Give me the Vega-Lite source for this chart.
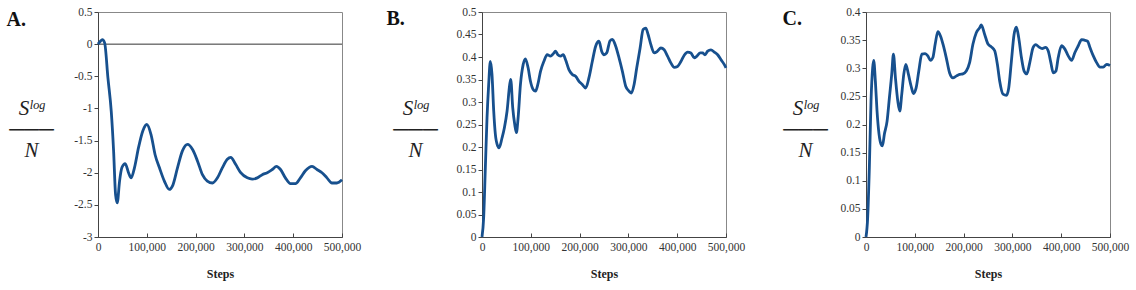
{
  "$schema": "https://vega.github.io/schema/vega-lite/v6.json",
  "padding": {"left": 5, "top": 5, "right": 5, "bottom": 5},
  "background": "white",
  "spacing": 140,
  "bounds": "flush",
  "config": {
    "font": "Liberation Serif",
    "locale": {"number": {"decimal": ".", "thousands": ",", "grouping": [3], "currency": ["$", ""], "minus": "-"}},
    "view": {"stroke": "#888888", "strokeWidth": 1},
    "axis": {
      "grid": false,
      "domainColor": "#444444",
      "tickColor": "#444444",
      "labelFont": "Liberation Serif",
      "labelFontSize": 11.5,
      "labelColor": "#333333",
      "labelOverlap": false,
      "labelFlush": false,
      "titleFont": "Liberation Serif",
      "titleColor": "#222222"
    },
    "axisX": {"tickSize": -4, "labelPadding": 8, "titleFontSize": 12, "titleFontWeight": "bold", "titlePadding": 16, "labelFont": "Liberation Serif", "titleFont": "Liberation Serif"},
    "axisY": {"tickSize": 4, "labelPadding": 2, "labelFont": "Liberation Serif", "titleFont": "Liberation Serif"}
  },
  "datasets": {
    "A": [
      {"step": 0, "value": 0}, {"step": 4400, "value": 0.04}, {"step": 8840, "value": 0.07}, {"step": 13600, "value": 0.02},
      {"step": 20400, "value": -0.53}, {"step": 27200, "value": -1.05}, {"step": 31960, "value": -1.66}, {"step": 36000, "value": -2.34},
      {"step": 39440, "value": -2.47}, {"step": 44200, "value": -2.13}, {"step": 49000, "value": -1.92}, {"step": 55760, "value": -1.86},
      {"step": 62560, "value": -2.0}, {"step": 68000, "value": -2.08}, {"step": 74800, "value": -1.92}, {"step": 83000, "value": -1.61},
      {"step": 91800, "value": -1.35}, {"step": 100000, "value": -1.25}, {"step": 108800, "value": -1.41}, {"step": 117000, "value": -1.72},
      {"step": 125800, "value": -1.92}, {"step": 136000, "value": -2.13}, {"step": 146000, "value": -2.26}, {"step": 153000, "value": -2.2},
      {"step": 163000, "value": -1.92}, {"step": 173000, "value": -1.66}, {"step": 183600, "value": -1.56}, {"step": 193800, "value": -1.64},
      {"step": 204000, "value": -1.82}, {"step": 214000, "value": -2.03}, {"step": 224000, "value": -2.13}, {"step": 234600, "value": -2.16},
      {"step": 244800, "value": -2.08}, {"step": 255000, "value": -1.92}, {"step": 265000, "value": -1.79}, {"step": 272000, "value": -1.76},
      {"step": 282000, "value": -1.87}, {"step": 292400, "value": -2.0}, {"step": 306000, "value": -2.08}, {"step": 316000, "value": -2.1},
      {"step": 326400, "value": -2.08}, {"step": 336600, "value": -2.03}, {"step": 346800, "value": -2.0}, {"step": 357000, "value": -1.95},
      {"step": 365800, "value": -1.9}, {"step": 374000, "value": -1.95}, {"step": 384000, "value": -2.08}, {"step": 394400, "value": -2.17},
      {"step": 404600, "value": -2.17}, {"step": 414800, "value": -2.08}, {"step": 425000, "value": -1.97}, {"step": 438600, "value": -1.9},
      {"step": 448800, "value": -1.95}, {"step": 459000, "value": -2.0}, {"step": 469200, "value": -2.08}, {"step": 479400, "value": -2.16},
      {"step": 489600, "value": -2.16}, {"step": 500000, "value": -2.11}
    ],
    "B": [
      {"step": 0, "value": 0}, {"step": 3400, "value": 0.043}, {"step": 6850, "value": 0.154}, {"step": 10300, "value": 0.265},
      {"step": 13700, "value": 0.339}, {"step": 17100, "value": 0.39}, {"step": 20500, "value": 0.361}, {"step": 24000, "value": 0.28},
      {"step": 27400, "value": 0.228}, {"step": 32200, "value": 0.202}, {"step": 35000, "value": 0.198}, {"step": 41000, "value": 0.22},
      {"step": 45900, "value": 0.243}, {"step": 51400, "value": 0.28}, {"step": 56800, "value": 0.339}, {"step": 58900, "value": 0.35},
      {"step": 63000, "value": 0.287}, {"step": 67100, "value": 0.25}, {"step": 70500, "value": 0.232}, {"step": 74000, "value": 0.265},
      {"step": 78800, "value": 0.339}, {"step": 84300, "value": 0.383}, {"step": 89000, "value": 0.396}, {"step": 94500, "value": 0.376},
      {"step": 99300, "value": 0.346}, {"step": 104800, "value": 0.328}, {"step": 109600, "value": 0.324}, {"step": 114400, "value": 0.339},
      {"step": 119900, "value": 0.368}, {"step": 126700, "value": 0.39}, {"step": 133600, "value": 0.405}, {"step": 140400, "value": 0.402},
      {"step": 145900, "value": 0.407}, {"step": 150700, "value": 0.413}, {"step": 155500, "value": 0.405}, {"step": 161000, "value": 0.402},
      {"step": 166400, "value": 0.405}, {"step": 171200, "value": 0.394}, {"step": 178100, "value": 0.372}, {"step": 185000, "value": 0.361},
      {"step": 191800, "value": 0.357}, {"step": 198700, "value": 0.346}, {"step": 205500, "value": 0.339}, {"step": 212400, "value": 0.331},
      {"step": 219200, "value": 0.354}, {"step": 226000, "value": 0.39}, {"step": 232900, "value": 0.424}, {"step": 239700, "value": 0.435},
      {"step": 245200, "value": 0.413}, {"step": 250000, "value": 0.405}, {"step": 255500, "value": 0.409}, {"step": 262300, "value": 0.436},
      {"step": 267100, "value": 0.439}, {"step": 274000, "value": 0.424}, {"step": 280800, "value": 0.398}, {"step": 287700, "value": 0.368},
      {"step": 294500, "value": 0.335}, {"step": 301400, "value": 0.324}, {"step": 306200, "value": 0.32}, {"step": 311700, "value": 0.339},
      {"step": 317100, "value": 0.376}, {"step": 324000, "value": 0.42}, {"step": 330200, "value": 0.461}, {"step": 335600, "value": 0.464},
      {"step": 340400, "value": 0.45}, {"step": 345900, "value": 0.428}, {"step": 352800, "value": 0.409}, {"step": 359600, "value": 0.413},
      {"step": 366500, "value": 0.42}, {"step": 373300, "value": 0.416}, {"step": 380200, "value": 0.402}, {"step": 387000, "value": 0.387},
      {"step": 393900, "value": 0.377}, {"step": 400700, "value": 0.379}, {"step": 407600, "value": 0.39}, {"step": 414400, "value": 0.404},
      {"step": 421300, "value": 0.411}, {"step": 428100, "value": 0.409}, {"step": 435000, "value": 0.398}, {"step": 440400, "value": 0.402},
      {"step": 447300, "value": 0.409}, {"step": 452100, "value": 0.409}, {"step": 456900, "value": 0.405}, {"step": 462400, "value": 0.413},
      {"step": 469200, "value": 0.416}, {"step": 476000, "value": 0.411}, {"step": 482900, "value": 0.405}, {"step": 489800, "value": 0.394},
      {"step": 496600, "value": 0.383}, {"step": 500000, "value": 0.376}
    ],
    "C": [
      {"step": 0, "value": 0}, {"step": 3400, "value": 0.034}, {"step": 6850, "value": 0.123}, {"step": 10300, "value": 0.242},
      {"step": 13700, "value": 0.301}, {"step": 15800, "value": 0.314}, {"step": 19200, "value": 0.277}, {"step": 22600, "value": 0.224},
      {"step": 26700, "value": 0.183}, {"step": 30800, "value": 0.165}, {"step": 33600, "value": 0.162}, {"step": 37700, "value": 0.183},
      {"step": 43200, "value": 0.206}, {"step": 48000, "value": 0.248}, {"step": 52700, "value": 0.289}, {"step": 56200, "value": 0.325},
      {"step": 60300, "value": 0.283}, {"step": 65100, "value": 0.242}, {"step": 69200, "value": 0.224}, {"step": 73300, "value": 0.254},
      {"step": 77400, "value": 0.289}, {"step": 81500, "value": 0.307}, {"step": 87000, "value": 0.289}, {"step": 92500, "value": 0.268},
      {"step": 97300, "value": 0.255}, {"step": 102700, "value": 0.265}, {"step": 108200, "value": 0.295}, {"step": 114400, "value": 0.325},
      {"step": 121200, "value": 0.326}, {"step": 126700, "value": 0.322}, {"step": 132200, "value": 0.314}, {"step": 137000, "value": 0.319},
      {"step": 141800, "value": 0.343}, {"step": 147300, "value": 0.365}, {"step": 152800, "value": 0.357}, {"step": 158300, "value": 0.341},
      {"step": 164400, "value": 0.319}, {"step": 171200, "value": 0.292}, {"step": 178100, "value": 0.283}, {"step": 184900, "value": 0.286},
      {"step": 191800, "value": 0.289}, {"step": 198600, "value": 0.29}, {"step": 205500, "value": 0.295}, {"step": 212300, "value": 0.31},
      {"step": 219200, "value": 0.343}, {"step": 226000, "value": 0.363}, {"step": 232900, "value": 0.372}, {"step": 236300, "value": 0.377},
      {"step": 243200, "value": 0.36}, {"step": 250000, "value": 0.343}, {"step": 256800, "value": 0.338}, {"step": 263700, "value": 0.331},
      {"step": 269200, "value": 0.307}, {"step": 274000, "value": 0.277}, {"step": 280800, "value": 0.254}, {"step": 287700, "value": 0.252},
      {"step": 292500, "value": 0.265}, {"step": 298000, "value": 0.313}, {"step": 303400, "value": 0.36}, {"step": 308200, "value": 0.373},
      {"step": 313000, "value": 0.354}, {"step": 318500, "value": 0.319}, {"step": 324000, "value": 0.295}, {"step": 329500, "value": 0.29},
      {"step": 335600, "value": 0.31}, {"step": 342500, "value": 0.337}, {"step": 348000, "value": 0.342}, {"step": 354100, "value": 0.338},
      {"step": 361000, "value": 0.335}, {"step": 367800, "value": 0.337}, {"step": 373300, "value": 0.331}, {"step": 378800, "value": 0.31},
      {"step": 383600, "value": 0.292}, {"step": 389100, "value": 0.295}, {"step": 393900, "value": 0.319}, {"step": 400700, "value": 0.34},
      {"step": 407600, "value": 0.334}, {"step": 414400, "value": 0.322}, {"step": 421300, "value": 0.314}, {"step": 428100, "value": 0.328},
      {"step": 435000, "value": 0.34}, {"step": 441800, "value": 0.351}, {"step": 447300, "value": 0.35}, {"step": 454100, "value": 0.348},
      {"step": 458900, "value": 0.337}, {"step": 465800, "value": 0.322}, {"step": 472600, "value": 0.31}, {"step": 479500, "value": 0.302},
      {"step": 486300, "value": 0.302}, {"step": 493200, "value": 0.307}, {"step": 500000, "value": 0.305}
    ],
    "zero": [{"value": 0}]
  },
  "hconcat": [
    {
      "width": 244, "height": 225,
      "resolve": {"axis": {"x": "independent"}},
      "layer": [
        {
          "data": {"name": "zero"},
          "mark": {"type": "rule", "color": "#333333", "strokeWidth": 1},
          "encoding": {"y": {"field": "value", "type": "quantitative", "scale": {"domain": [-3, 0.5], "nice": false},
                  "axis": {"values": [-3, -2.5, -2, -1.5, -1, -0.5, 0, 0.5], "format": "~g",
                           "title": ["Sˡᵒᵍ", "───", "N"], "titleAngle": 0, "titleAlign": "center", "titleBaseline": "middle",
                           "titleFontSize": 21, "titleFontStyle": "italic", "titleFontWeight": "normal", "titleLineHeight": 21,
                           "titleX": -67, "titleY": 96}}}
        },
        {
          "data": {"name": "A"},
          "mark": {"type": "line", "color": "#17508e", "strokeWidth": 2.8, "interpolate": "monotone"},
          "encoding": {
            "x": {"field": "step", "type": "quantitative", "scale": {"domain": [0, 500000], "nice": false},
                  "axis": {"values": [0, 100000, 200000, 300000, 400000, 500000], "format": ",d", "title": "Steps"}},
            "y": {"field": "value", "type": "quantitative", "scale": {"domain": [-3, 0.5], "nice": false},
                  "axis": {"values": [-3, -2.5, -2, -1.5, -1, -0.5, 0, 0.5], "format": "~g",
                           "title": ["Sˡᵒᵍ", "───", "N"], "titleAngle": 0, "titleAlign": "center", "titleBaseline": "middle",
                           "titleFontSize": 21, "titleFontStyle": "italic", "titleFontWeight": "normal", "titleLineHeight": 21,
                           "titleX": -67, "titleY": 96}}
          }
        },
        {
          "data": {"name": "A"},
          "mark": {"type": "line", "strokeOpacity": 0},
          "encoding": {
            "x": {"field": "step", "type": "quantitative",
                  "axis": {"orient": "top", "title": "A.", "labels": false, "ticks": false, "domain": false,
                           "titleX": -92, "titleY": 13, "titleAlign": "left", "titleBaseline": "alphabetic", "titleAngle": 0,
                           "titleFontSize": 20, "titleFontWeight": "bold", "titleColor": "#111111"}},
            "y": {"field": "value", "type": "quantitative",
                  "axis": {"values": [-3, -2.5, -2, -1.5, -1, -0.5, 0, 0.5], "format": "~g",
                           "title": ["Sˡᵒᵍ", "───", "N"], "titleAngle": 0, "titleAlign": "center", "titleBaseline": "middle",
                           "titleFontSize": 21, "titleFontStyle": "italic", "titleFontWeight": "normal", "titleLineHeight": 21,
                           "titleX": -67, "titleY": 96}}
          }
        }
      ]
    },
    {
      "width": 244, "height": 225,
      "resolve": {"axis": {"x": "independent"}},
      "data": {"name": "B"},
      "layer": [
        {
          "mark": {"type": "line", "color": "#17508e", "strokeWidth": 2.8, "interpolate": "monotone"},
          "encoding": {
            "x": {"field": "step", "type": "quantitative", "scale": {"domain": [0, 500000], "nice": false},
                  "axis": {"values": [0, 100000, 200000, 300000, 400000, 500000], "format": ",d", "title": "Steps"}},
            "y": {"field": "value", "type": "quantitative", "scale": {"domain": [0, 0.5], "nice": false},
                  "axis": {"values": [0, 0.05, 0.1, 0.15, 0.2, 0.25, 0.3, 0.35, 0.4, 0.45, 0.5], "format": "~g",
                           "title": ["Sˡᵒᵍ", "───", "N"], "titleAngle": 0, "titleAlign": "center", "titleBaseline": "middle",
                           "titleFontSize": 21, "titleFontStyle": "italic", "titleFontWeight": "normal", "titleLineHeight": 21,
                           "titleX": -67, "titleY": 96}}
          }
        },
        {
          "mark": {"type": "line", "strokeOpacity": 0},
          "encoding": {
            "x": {"field": "step", "type": "quantitative",
                  "axis": {"orient": "top", "title": "B.", "labels": false, "ticks": false, "domain": false,
                           "titleX": -96, "titleY": 12, "titleAlign": "left", "titleBaseline": "alphabetic", "titleAngle": 0,
                           "titleFontSize": 20, "titleFontWeight": "bold", "titleColor": "#111111"}},
            "y": {"field": "value", "type": "quantitative",
                  "axis": {"values": [0, 0.05, 0.1, 0.15, 0.2, 0.25, 0.3, 0.35, 0.4, 0.45, 0.5], "format": "~g",
                           "title": ["Sˡᵒᵍ", "───", "N"], "titleAngle": 0, "titleAlign": "center", "titleBaseline": "middle",
                           "titleFontSize": 21, "titleFontStyle": "italic", "titleFontWeight": "normal", "titleLineHeight": 21,
                           "titleX": -67, "titleY": 96}}
          }
        }
      ]
    },
    {
      "width": 244, "height": 225,
      "resolve": {"axis": {"x": "independent"}},
      "data": {"name": "C"},
      "layer": [
        {
          "mark": {"type": "line", "color": "#17508e", "strokeWidth": 2.8, "interpolate": "monotone"},
          "encoding": {
            "x": {"field": "step", "type": "quantitative", "scale": {"domain": [0, 500000], "nice": false},
                  "axis": {"values": [0, 100000, 200000, 300000, 400000, 500000], "format": ",d", "title": "Steps"}},
            "y": {"field": "value", "type": "quantitative", "scale": {"domain": [0, 0.4], "nice": false},
                  "axis": {"values": [0, 0.05, 0.1, 0.15, 0.2, 0.25, 0.3, 0.35, 0.4], "format": "~g",
                           "title": ["Sˡᵒᵍ", "───", "N"], "titleAngle": 0, "titleAlign": "center", "titleBaseline": "middle",
                           "titleFontSize": 21, "titleFontStyle": "italic", "titleFontWeight": "normal", "titleLineHeight": 21,
                           "titleX": -61, "titleY": 96}}
          }
        },
        {
          "mark": {"type": "line", "strokeOpacity": 0},
          "encoding": {
            "x": {"field": "step", "type": "quantitative",
                  "axis": {"orient": "top", "title": "C.", "labels": false, "ticks": false, "domain": false,
                           "titleX": -84, "titleY": 12, "titleAlign": "left", "titleBaseline": "alphabetic", "titleAngle": 0,
                           "titleFontSize": 20, "titleFontWeight": "bold", "titleColor": "#111111"}},
            "y": {"field": "value", "type": "quantitative",
                  "axis": {"values": [0, 0.05, 0.1, 0.15, 0.2, 0.25, 0.3, 0.35, 0.4], "format": "~g",
                           "title": ["Sˡᵒᵍ", "───", "N"], "titleAngle": 0, "titleAlign": "center", "titleBaseline": "middle",
                           "titleFontSize": 21, "titleFontStyle": "italic", "titleFontWeight": "normal", "titleLineHeight": 21,
                           "titleX": -61, "titleY": 96}}
          }
        }
      ]
    }
  ]
}
